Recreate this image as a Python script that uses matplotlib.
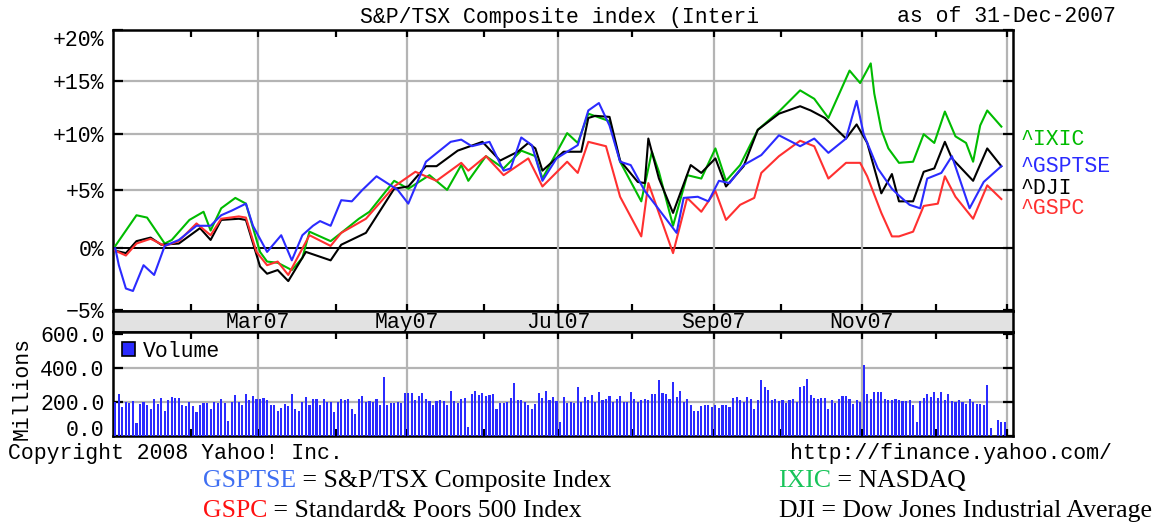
import numpy as np
import pandas as pd
import matplotlib
matplotlib.use("Agg")
import matplotlib.pyplot as plt
from matplotlib.ticker import FixedLocator, NullFormatter

# ---- data: percent change (dates are trading days) ----
ixic_days = ["2006-12-29", "01-09", "01-12", "01-22", "01-24", "01-31", "02-06", "02-08", "02-13", "02-20",
             "02-23", "03-01", "03-05", "03-08", "03-14", "03-19", "03-21", "03-29", "04-03", "04-11",
             "04-16", "04-25", "05-01", "05-09", "05-16", "05-22", "05-24", "06-01", "06-08", "06-15",
             "06-21", "06-25", "07-05", "07-10", "07-13", "07-23", "07-26", "08-03", "08-08", "08-10",
             "08-16", "08-22", "08-28", "09-04", "09-07", "09-13", "09-20", "09-28", "10-08", "10-12",
             "10-18", "10-26", "10-31", "11-05", "11-06", "11-08", "11-12", "11-15", "11-21", "11-27",
             "11-30", "12-05", "12-10", "12-13", "12-17", "12-19", "12-21", "12-28"]
ixic_pct = [0.2, 2.8, 2.6, 0.4, 0.7, 2.4, 3.1, 1.5, 3.4, 4.3,
            3.8, -0.3, -1.1, -1.2, -1.8, -0.8, 1.4, 0.6, 1.3, 2.5,
            3.1, 5.8, 5.1, 6.3, 5.0, 7.2, 5.8, 8.0, 6.9, 8.5,
            8.0, 6.0, 10.1, 9.2, 11.9, 11.2, 7.5, 4.0, 8.4, 6.6,
            1.9, 6.3, 6.0, 8.7, 5.8, 7.2, 10.4, 12.1, 14.1, 13.3,
            11.5, 16.0, 14.8, 16.7, 13.8, 10.4, 8.7, 7.4, 7.5, 10.0,
            9.2, 12.1, 9.8, 9.2, 7.5, 10.8, 12.2, 10.7]

gsptse_days = ["2006-12-29", "01-02", "01-04", "01-08", "01-11", "01-17", "01-22", "01-26", "02-02", "02-08",
               "02-13", "02-16", "02-23", "02-27", "03-05", "03-09", "03-14", "03-19", "03-22", "03-26",
               "03-29", "04-03", "04-09", "04-12", "04-18", "04-26", "05-01", "05-08", "05-17", "05-22",
               "05-25", "06-04", "06-08", "06-12", "06-15", "06-20", "06-25", "06-29", "07-10", "07-13",
               "07-18", "07-23", "07-26", "07-31", "08-06", "08-09", "08-17", "08-21", "08-27", "08-30",
               "09-05", "09-10", "09-14", "09-21", "09-28", "10-08", "10-12", "10-18", "10-25", "10-30",
               "11-01", "11-07", "11-13", "11-15", "11-20", "11-26", "11-28", "12-04", "12-07", "12-14",
               "12-20", "12-28"]
gsptse_pct = [0.0, -1.4, -3.3, -3.5, -1.4, -2.2, 0.2, 0.7, 1.9, 1.9,
              2.8, 3.2, 3.8, 1.9, -0.3, 1.1, -1.0, 1.1, 1.9, 2.3,
              1.9, 4.1, 4.0, 5.0, 6.2, 5.0, 3.8, 7.5, 9.3, 9.5,
              8.9, 9.3, 6.7, 6.9, 9.7, 9.0, 5.8, 7.8, 9.0, 12.2,
              12.9, 10.8, 7.5, 7.2, 4.9, 3.7, 1.3, 4.3, 4.4, 4.0,
              5.8, 5.6, 7.2, 8.1, 9.9, 8.9, 9.6, 8.3, 9.6, 13.1,
              10.0, 6.9, 5.1, 4.5, 3.7, 3.4, 6.0, 6.5, 8.0, 3.4,
              5.7, 7.1]

dji_days = ["2006-12-29", "01-04", "01-09", "01-16", "01-19", "01-26", "02-05", "02-08", "02-13", "02-21",
            "02-23", "03-01", "03-05", "03-08", "03-13", "03-20", "03-29", "04-03", "04-13", "04-25",
            "05-01", "05-08", "05-11", "05-21", "05-31", "06-07", "06-14", "06-19", "06-21", "06-25",
            "07-03", "07-11", "07-13", "07-17", "07-23", "07-26", "08-02", "08-06", "08-07", "08-10",
            "08-16", "08-23", "08-28", "09-04", "09-07", "09-14", "09-20", "09-28", "10-08", "10-11",
            "10-17", "10-25", "10-30", "11-02", "11-08", "11-13", "11-15", "11-21", "11-27", "11-30",
            "12-05", "12-07", "12-17", "12-21", "12-28"]
dji_pct = [-0.2, -0.4, 0.6, 0.9, 0.3, 0.4, 1.7, 0.7, 2.4, 2.5,
           2.4, -1.5, -2.1, -1.8, -2.7, -0.3, -1.0, 0.3, 1.3, 5.1,
           5.3, 7.1, 7.1, 8.5, 9.3, 7.6, 8.4, 9.2, 8.7, 6.7,
           8.4, 8.4, 11.5, 11.7, 11.6, 7.6, 5.7, 5.6, 9.6, 6.0,
           3.0, 7.2, 6.5, 7.8, 5.3, 7.1, 10.4, 11.9, 12.6, 12.2,
           11.5, 9.6, 10.9, 9.2, 4.7, 6.4, 4.0, 4.0, 6.6, 6.9,
           9.3, 7.8, 5.8, 8.7, 7.1]

gspc_days = ["2006-12-29", "01-04", "01-09", "01-16", "01-22", "01-26", "02-02", "02-08", "02-13", "02-21",
             "02-23", "02-28", "03-05", "03-08", "03-13", "03-21", "03-29", "04-03", "04-13", "04-25",
             "05-03", "05-11", "05-22", "05-24", "06-01", "06-08", "06-19", "06-25", "07-05", "07-10",
             "07-13", "07-20", "07-26", "08-03", "08-07", "08-16", "08-22", "08-28", "09-04", "09-07",
             "09-13", "09-19", "09-21", "09-28", "10-08", "10-12", "10-18", "10-25", "10-31", "11-02",
             "11-08", "11-13", "11-15", "11-21", "11-27", "12-03", "12-05", "12-10", "12-17", "12-21",
             "12-28"]
gspc_pct = [-0.2, -0.6, 0.4, 0.8, 0.2, 0.6, 2.1, 1.1, 2.5, 2.7,
            2.6, -0.3, -1.4, -1.1, -2.2, 1.1, 0.2, 1.3, 2.5, 5.3,
            6.6, 5.8, 7.4, 6.7, 8.0, 6.3, 7.8, 5.3, 7.5, 6.5,
            9.3, 8.9, 4.4, 1.0, 5.6, -0.4, 4.3, 3.1, 4.9, 2.4,
            3.7, 4.3, 6.5, 8.0, 9.4, 8.9, 6.0, 7.4, 7.4, 6.2,
            3.0, 1.0, 1.0, 1.4, 3.6, 3.8, 6.2, 4.4, 2.5, 5.4,
            4.2]

# daily volume, millions (one bar per trading day, 29-Dec-2006 .. 31-Dec-2007)
volume = [
    # Dec06 + Jan
    200, 245, 170, 200, 195, 205, 75, 190, 200, 185, 160, 220, 190, 225, 150, 210, 230, 225, 225, 185, 175, 200,
    # Feb
    175, 140, 180, 195, 195, 160, 200, 195, 215, 195, 90, 200, 240, 200, 180, 245, 210, 235, 220,
    # Mar
    215, 225, 210, 180, 185, 150, 165, 190, 175, 245, 160, 150, 200, 230, 180, 215, 220, 185, 215, 200, 200, 140,
    # Apr
    200, 220, 210, 215, 160, 130, 220, 235, 200, 205, 200, 220, 185, 345, 180, 195, 195, 200, 195, 255,
    # May
    255, 255, 210, 235, 255, 220, 205, 180, 205, 210, 205, 180, 265, 205, 195, 215, 225, 55, 245, 265, 240, 255,
    # Jun
    235, 240, 250, 160, 195, 195, 200, 225, 310, 210, 210, 200, 185, 160, 190, 255, 225, 265, 210, 230, 205,
    # Jul
    80, 230, 195, 200, 195, 290, 200, 230, 210, 240, 200, 260, 210, 220, 235, 200, 215, 235, 200, 200, 260,
    # Aug
    220, 200, 210, 215, 210, 245, 250, 330, 255, 245, 220, 320, 230, 265, 200, 215, 185, 150, 145, 175, 185, 180, 170,
    # Sep
    185, 165, 185, 180, 170, 225, 230, 210, 200, 230, 220, 160, 210, 330, 290, 270, 210, 220, 205,
    # Oct
    210, 195, 210, 215, 200, 290, 295, 335, 240, 225, 220, 225, 225, 160, 210, 195, 215, 235, 235, 220, 190, 210, 200,
    # Nov
    420, 245, 215, 260, 260, 260, 220, 210, 210, 215, 210, 205, 205, 210, 180, 85, 205, 225, 250, 230, 260,
    # Dec
    225, 260, 210, 250, 205, 200, 210, 200, 190, 215, 200, 190, 190, 185, 300, 45, 0, 95, 80, 80,
]
holidays = ["2007-01-01", "2007-01-15", "2007-02-19", "2007-04-06", "2007-05-28",
            "2007-07-04", "2007-09-03", "2007-11-22", "2007-12-25"]

month_labels = ["Mar07", "May07", "Jul07", "Sep07", "Nov07"]
pct_ticks = [-5, 0, 5, 10, 15, 20]
pct_labels = ["\u22125%", "0%", "+5%", "+10%", "+15%", "+20%"]
vol_ticks = [0, 200, 400, 600]

GREEN, BLUE, RED = "#00bb00", "#2b2bff", "#ff3030"

# trading-day axis: one slot per session, like the original chart
days = pd.bdate_range("2006-12-29", "2007-12-31").drop(pd.to_datetime(holidays))

def pos(d):
    full = pd.to_datetime([s if s.startswith("20") else "2007-" + s for s in d])
    return days.get_indexer(full)

def month_edge(s):
    return days.searchsorted(pd.Timestamp(s)) - 0.5

majors = [month_edge(m) for m in ["2007-03-01", "2007-05-01", "2007-07-01",
                                  "2007-09-01", "2007-11-01", "2008-01-01"]]
minors = [month_edge(m) for m in ["2007-02-01", "2007-04-01", "2007-06-01",
                                  "2007-08-01", "2007-10-01", "2007-12-01"]]

# ---- figure layout in pixels ----
W, H = 1176, 523
fig = plt.figure(figsize=(W / 100, H / 100), dpi=100)

def box(l, t, r, b):
    return [l / W, 1 - b / H, (r - l) / W, (b - t) / H]

ax = fig.add_axes(box(113, 30, 1013, 311))
strip = fig.add_axes(box(113, 311, 1013, 332))
axv = fig.add_axes(box(113, 332, 1013, 436))

mono = dict(family="Liberation Mono", fontsize=15.5)

for a in (ax, strip, axv):
    a.set_xlim(-0.65, len(days) + 1.3)
    for s in a.spines.values():
        s.set_linewidth(1.8)

# ---- main panel ----
ax.set_yscale("function", functions=(lambda p: np.log1p(np.asarray(p) / 100.0),
                                     lambda v: 100.0 * np.expm1(v)))
ax.set_ylim(-5.1, 20)
ax.set_yticks(pct_ticks)
ax.set_yticklabels(pct_labels, **mono)
ax.yaxis.set_minor_locator(FixedLocator([]))
ax.get_yticklabels()[-1].set_va("top")
ax.tick_params(axis="y", which="major", direction="in", length=7, width=1.6,
               left=True, right=True, pad=6)

for g in (5, 10, 15):
    ax.axhline(g, color="#b4b4b4", lw=1.6, zorder=1)
ax.axhline(0, color="black", lw=1.4, zorder=1)

for a in (ax, axv):
    a.xaxis.set_major_locator(FixedLocator(majors))
    a.xaxis.set_minor_locator(FixedLocator(minors))
    a.xaxis.set_major_formatter(NullFormatter())
    a.xaxis.set_minor_formatter(NullFormatter())
    a.tick_params(axis="x", which="both", direction="in", length=5, width=1.6,
                  top=True, bottom=True)
    a.grid(axis="x", which="major", color="#b4b4b4", lw=1.6, zorder=1)

ax.plot(pos(ixic_days), ixic_pct, color=GREEN, lw=1.5, zorder=3)
ax.plot(pos(dji_days), dji_pct, color="black", lw=1.5, zorder=3)
ax.plot(pos(gspc_days), gspc_pct, color=RED, lw=1.5, zorder=3)
ax.plot(pos(gsptse_days), gsptse_pct, color=BLUE, lw=1.5, zorder=4)

# ---- month strip ----
strip.set_facecolor("#e2e2e2")
strip.set_xticks([])
strip.set_yticks([])
strip.set_ylim(0, 1)
for lab, m in zip(month_labels, majors):
    strip.text(m, 0.45, lab, ha="center", va="center", **mono)

# ---- volume panel ----
axv.bar(np.arange(len(days)), volume, width=0.6, color=BLUE, lw=0, zorder=3)
axv.set_ylim(0, 612)
axv.set_yticks(vol_ticks)
axv.set_yticklabels([f"{v:.1f}" for v in vol_ticks], **mono)
axv.get_yticklabels()[0].set_va("baseline")
axv.tick_params(axis="y", direction="in", length=7, width=1.6, left=True, right=True, pad=6)
for g in (200, 400):
    axv.axhline(g, color="#b4b4b4", lw=1.6, zorder=1)
axv.set_ylabel("Millions", **mono)
axv.yaxis.set_label_coords(-0.089, 0.46)
axv.legend([plt.Rectangle((0, 0), 1, 1, fc=BLUE, ec="black", lw=1.2)], ["Volume"],
           loc="upper left", frameon=False, prop=dict(family="Liberation Mono", size=15.5),
           handlelength=0.6, handleheight=0.6, handletextpad=0.4, borderaxespad=0.1,
           borderpad=0.3)

# ---- texts around the chart ----
def fx(px):
    return px / W

def fy(py):
    return 1 - py / H

fig.text(fx(360), fy(17), "S&P/TSX Composite index (Interi", ha="left", va="center", **mono)
fig.text(fx(1116), fy(17), "as of 31-Dec-2007", ha="right", va="center", **mono)
fig.text(fx(8), fy(453), "Copyright 2008 Yahoo! Inc.", ha="left", va="center", **mono)
fig.text(fx(1112), fy(453), "http://finance.yahoo.com/", ha="right", va="center", **mono)

legend_items = [("^IXIC", GREEN, 139), ("^GSPTSE", BLUE, 167), ("^DJI", "black", 188), ("^GSPC", RED, 208)]
for name, col, py in legend_items:
    fig.text(fx(1021), fy(py), name, color=col, ha="left", va="center", **mono)

serif = dict(family="Liberation Serif", fontsize=18.5, va="baseline")
renderer = fig.canvas.get_renderer()

def caption(px, py, key, color, rest):
    t = fig.text(fx(px), fy(py), key, color=color, **serif)
    bb = t.get_window_extent(renderer)
    fig.text(bb.x1 / W, fy(py), rest, color="black", **serif)

caption(203, 487, "GSPTSE", "#3f6ff2", " = S&P/TSX Composite Index")
caption(203, 517, "GSPC", "#ff1010", " = Standard& Poors 500 Index")
caption(778, 487, "IXIC", "#18c45a", " = NASDAQ")
caption(778, 517, "DJI", "black", " = Dow Jones Industrial Average")

fig.savefig("out.png", dpi=100)
